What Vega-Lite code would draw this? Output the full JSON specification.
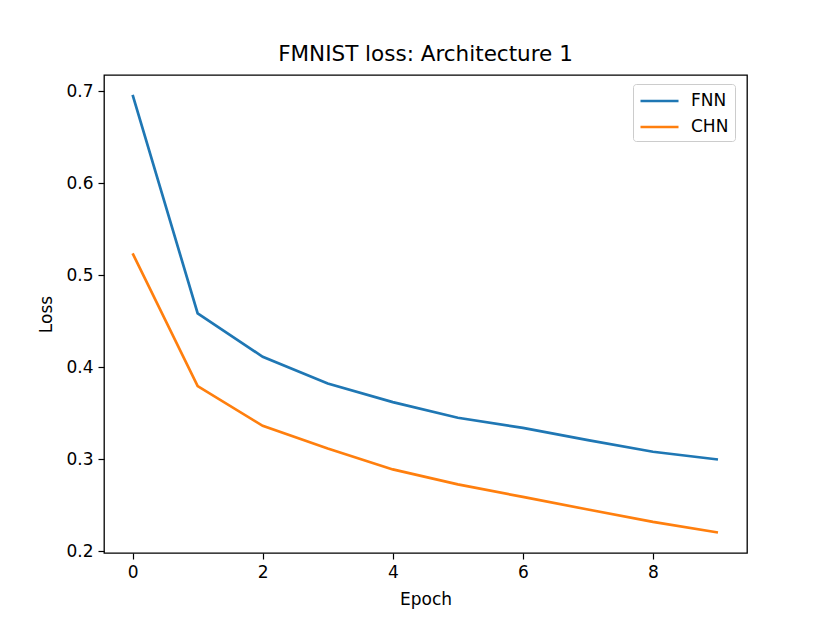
{
  "$schema": "https://vega.github.io/schema/vega-lite/v6.json",
  "autosize": {"type": "none"},
  "padding": {"left": 104, "top": 75, "right": 83, "bottom": 70},
  "width": 643,
  "height": 478,
  "background": "white",
  "title": {"text": "FMNIST loss: Architecture 1", "fontSize": 21.5, "fontWeight": "normal", "font": "DejaVu Sans", "color": "black", "anchor": "middle", "offset": 10},
  "config": {
    "font": "DejaVu Sans",
    "view": {"stroke": "black", "strokeWidth": 1.3},
    "axis": {"grid": false, "domain": false, "tickColor": "black", "tickSize": 6, "tickWidth": 1.2, "labelColor": "black", "labelFontSize": 17, "labelFont": "DejaVu Sans", "titleFont": "DejaVu Sans", "titleFontSize": 17, "titleFontWeight": "normal", "titleColor": "black", "labelPadding": 5}
  },
  "data": {
    "values": [
      {"Epoch": 0, "Loss": 0.6957, "Model": "FNN"},
      {"Epoch": 1, "Loss": 0.4584, "Model": "FNN"},
      {"Epoch": 2, "Loss": 0.4112, "Model": "FNN"},
      {"Epoch": 3, "Loss": 0.3822, "Model": "FNN"},
      {"Epoch": 4, "Loss": 0.3620, "Model": "FNN"},
      {"Epoch": 5, "Loss": 0.3450, "Model": "FNN"},
      {"Epoch": 6, "Loss": 0.3340, "Model": "FNN"},
      {"Epoch": 7, "Loss": 0.3207, "Model": "FNN"},
      {"Epoch": 8, "Loss": 0.3080, "Model": "FNN"},
      {"Epoch": 9, "Loss": 0.2996, "Model": "FNN"},
      {"Epoch": 0, "Loss": 0.5236, "Model": "CHN"},
      {"Epoch": 1, "Loss": 0.3793, "Model": "CHN"},
      {"Epoch": 2, "Loss": 0.3362, "Model": "CHN"},
      {"Epoch": 3, "Loss": 0.3116, "Model": "CHN"},
      {"Epoch": 4, "Loss": 0.2888, "Model": "CHN"},
      {"Epoch": 5, "Loss": 0.2725, "Model": "CHN"},
      {"Epoch": 6, "Loss": 0.2590, "Model": "CHN"},
      {"Epoch": 7, "Loss": 0.2453, "Model": "CHN"},
      {"Epoch": 8, "Loss": 0.2318, "Model": "CHN"},
      {"Epoch": 9, "Loss": 0.2203, "Model": "CHN"}
    ]
  },
  "mark": {"type": "line", "strokeWidth": 2.7},
  "encoding": {
    "x": {
      "field": "Epoch", "type": "quantitative", "title": "Epoch",
      "scale": {"domain": [-0.44, 9.446], "nice": false, "zero": false},
      "axis": {"values": [0, 2, 4, 6, 8], "format": "d", "titlePadding": 11}
    },
    "y": {
      "field": "Loss", "type": "quantitative", "title": "Loss",
      "scale": {"domain": [0.198, 0.7174], "nice": false, "zero": false},
      "axis": {"values": [0.2, 0.3, 0.4, 0.5, 0.6, 0.7], "format": ".1f", "titlePadding": 10}
    },
    "color": {
      "field": "Model", "type": "nominal", "title": null,
      "scale": {"domain": ["FNN", "CHN"], "range": ["#1f77b4", "#ff7f0e"]},
      "legend": {
        "orient": "none", "legendX": 529, "legendY": 9,
        "symbolType": "M-1,0L3,0", "symbolSize": 361, "symbolStrokeWidth": 2.7,
        "labelFontSize": 17, "labelColor": "black", "labelOffset": 30,
        "rowPadding": 7, "padding": 6,
        "fillColor": "white", "strokeColor": "#cccccc", "cornerRadius": 3
      }
    }
  }
}
